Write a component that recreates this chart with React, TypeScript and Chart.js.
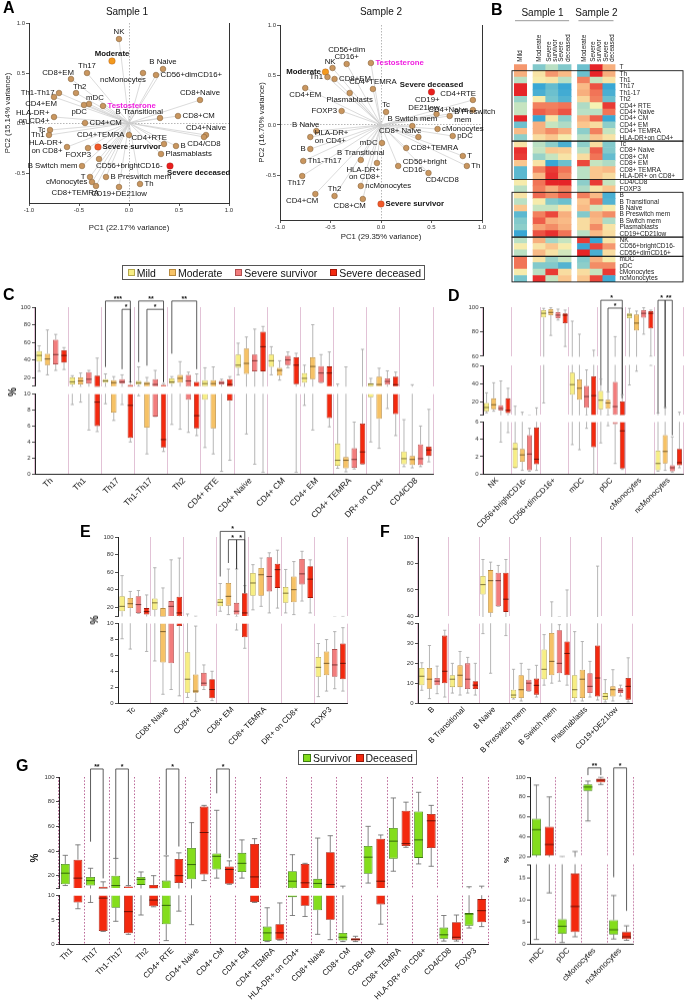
import React, { useEffect, useRef } from 'react';
import { Chart, registerables } from 'chart.js';

Chart.register(...registerables);
const FONT = '"Liberation Sans", Arial, Helvetica, sans-serif';
Chart.defaults.font.family = FONT;
Chart.defaults.color = '#222';

// ---------------- PCA data ----------------
const pca1Labels = ['NK','Moderate','B Naive','ncMonocytes','CD56+dimCD16+','Th17','CD8+EM','Th1-Th17','CD4+EM','Th2','mDC','pDC','Testosterone','CD8+Naive','HLA-DR+\non CD4+','CD4+CM','B Transitional','CD8+CM','Tc','Th1','CD4+TEMRA','CD4+Naive','CD4/CD8','CD4+RTE','B','HLA-DR+\non CD8+','Severe survivor','FOXP3','Plasmablasts','CD56+brightCD16-','Severe deceased','B Switch mem','T','cMonocytes','B Preswitch mem','CD8+TEMRA','CD19+DE21low','Th'];
const pca1X = [-0.10,-0.17,0.34,0.14,0.27,-0.42,-0.58,-0.70,-0.75,-0.53,-0.40,-0.45,-0.26,0.71,-0.75,-0.44,0.31,0.49,-0.79,-0.80,0.00,0.77,0.75,0.35,0.47,-0.62,-0.31,-0.41,0.32,-0.30,0.41,-0.47,-0.39,-0.37,-0.23,-0.33,-0.10,0.11];
const pca1Y = [0.84,0.62,0.54,0.50,0.48,0.50,0.44,0.30,0.26,0.30,0.19,0.18,0.17,0.23,0.06,0.00,0.05,0.07,-0.07,-0.12,-0.12,-0.12,-0.14,-0.21,-0.23,-0.24,-0.24,-0.25,-0.31,-0.36,-0.43,-0.43,-0.54,-0.59,-0.54,-0.63,-0.64,-0.61];
const pca1Place = ['t','t','t','bl','r','t','tl','l','bl','tr','tr','bl','r','t','l','r','tl','r','l','l','l','t','b','tl','r','l','r','bl','r','br','br','l','l','l','r','bl','b','r'];

const pca2Labels = ['CD56+dim\nCD16+','Testosterone','NK','Moderate','Th1','CD8+EM','CD4+EM','CD4+TEMRA','Plasmablasts','Severe deceased','FOXP3','Tc','CD19+\nDE21low','B Naive','B Switch mem','cMonocytes','pDC','HLA-DR+\non CD4+','CD8+ Naive','mDC','B','CD8+TEMRA','Th1-Th17','B Transitional','HLA-DR+\non CD8+','CD56+bright\nCD16-','Th17','CD4/CD8','ncMonocytes','CD4+CM','Th2','CD8+CM','Severe survivor','CD4+RTE','CD4+Naive','B Preswitch\nmem','T','Th'];
const pca2X = [-0.34,-0.10,-0.48,-0.55,-0.53,-0.46,-0.75,-0.08,-0.31,0.50,-0.39,0.05,0.55,-0.64,0.31,0.56,0.71,-0.70,0.37,0.01,-0.70,0.25,-0.77,-0.20,-0.04,0.17,-0.78,0.47,-0.20,-0.65,-0.46,-0.18,0.00,0.91,0.91,0.68,0.81,0.85];
const pca2Y = [0.61,0.62,0.57,0.53,0.48,0.46,0.37,0.36,0.32,0.33,0.14,0.13,0.11,-0.06,-0.01,-0.04,-0.11,-0.12,-0.12,-0.18,-0.24,-0.23,-0.36,-0.35,-0.38,-0.41,-0.51,-0.48,-0.61,-0.69,-0.71,-0.74,-0.79,0.25,0.15,0.09,-0.31,-0.41];
const pca2Place = ['t','r','tl','l','l','r','b','t','b','t','l','t','tl','tl','t','r','r','r','tl','l','l','r','r','t','bl','r','bl','br','r','bl','t','bl','r','tl','l','r','r','r'];

const COND_COLORS: any = { 'Moderate': '#f39a1e', 'Severe survivor': '#f0592a', 'Severe deceased': '#e81e1e' };

// ---------------- Heatmap data ----------------
const heatRows = ['T','Th','Th1','Th17','Th1-17','Th2','CD4+ RTE','CD4+ Naive','CD4+ CM','CD4+ EM','CD4+ TEMRA','HLA-DR+on CD4+','Tc','CD8+ Naive','CD8+ CM','CD8+ EM','CD8+ TEMRA','HLA-DR+ on CD8+','CD4/CD8','FOXP3','B','B Transitional','B Naive','B Preswitch mem','B Switch mem','Plasmablasts','CD19+CD21low','NK','CD56+brightCD16-','CD56+dimCD16+','mDC','pDC','cMonocytes','ncMonocytes'];
const heatCols = ['Mild','Moderate','Severe\nsurvivor','Severe\ndeceased','Moderate','Severe\nsurvivor','Severe\ndeceased'];
const heatValues = [
  [1.0,-1.0,-0.5,-1.0,-1.2,2.0,0.8],
  [0.8,0.2,1.0,0.7,-1.2,2.0,0.8],
  [-0.5,0.1,0.2,-0.5,1.2,-0.4,0.2],
  [2.0,-1.8,-1.3,-1.8,0.7,1.6,-1.8],
  [2.0,-1.6,-1.2,-1.7,0.8,1.3,-1.6],
  [-0.8,0.1,-1.1,-1.5,0.4,1.2,-1.2],
  [-0.4,1.2,1.2,1.3,-0.6,0.0,1.8],
  [-0.4,1.5,1.3,1.6,-0.5,-0.5,1.3],
  [2.0,-1.8,0.2,-0.9,0.8,1.5,-1.8],
  [-1.2,0.8,-0.4,-0.6,0.6,0.3,-0.9],
  [0.7,0.8,1.1,0.8,-0.9,1.2,-0.4],
  [-0.9,0.3,0.6,0.1,-0.5,0.6,0.2],
  [0.2,-0.5,-0.9,-1.6,-0.9,0.3,-1.0],
  [1.9,-0.4,0.6,0.5,-0.5,1.5,-1.0],
  [1.8,-0.8,-0.4,0.2,0.3,1.3,-1.3],
  [0.6,0.2,-1.8,-1.2,1.7,-0.4,-0.6],
  [-1.4,1.2,1.8,1.3,-0.5,0.6,0.7],
  [-1.4,0.7,1.9,1.1,-0.5,0.6,0.3],
  [0.1,1.3,2.0,2.0,-0.9,1.8,-0.4],
  [-0.5,1.2,0.8,1.2,-0.6,0.2,0.6],
  [0.2,1.4,1.1,1.5,1.2,0.7,-1.6],
  [-0.5,0.1,-1.0,-1.2,0.6,1.3,-1.5],
  [0.6,-0.4,-0.4,0.2,0.7,-0.3,0.1],
  [-1.4,1.2,1.7,0.8,-1.0,0.8,1.1],
  [-1.0,1.5,0.8,0.7,0.3,0.7,-0.6],
  [-0.9,0.9,1.1,0.8,0.3,1.1,0.2],
  [-1.8,1.6,1.9,1.3,-0.5,0.7,0.3],
  [-0.5,0.8,-0.7,-0.4,1.8,-1.8,0.2],
  [0.1,0.2,0.6,0.1,-1.8,1.7,1.0],
  [-0.5,0.7,0.2,-0.3,2.0,-1.6,0.3],
  [1.3,0.2,-0.8,-0.4,-1.0,0.8,0.1],
  [1.3,-1.0,-1.0,-1.5,-0.9,1.1,1.1],
  [0.1,-0.5,1.8,0.3,0.3,-0.4,1.8],
  [-1.1,1.9,-0.4,0.6,0.6,1.7,-1.7],
];
const heatColPos = [0, 1.5, 2.5, 3.5, 5, 6, 7];
const heatBoxes = [[1, 12], [12, 18], [20, 27], [27, 30], [30, 34]];

// ---------------- Box plot data: [min, q1, median, q3, max] ----------------
const catsC = ['Th','Th1','Th17','Th1-Th17','Th2','CD4+ RTE','CD4+ Naive','CD4+ CM','CD4+ EM','CD4+ TEMRA','DR+ on CD4+','CD4/CD8'];
const cMild = [[27,38,45,50,56],[8.7,12,15,20,22],[8.8,14,16,18,24],[9.8,12,14,16,32],[6.2,13,15,19,21],[3.3,9.3,13,17,31],[23,31,34,46,59],[23,32,39,46,55],[8.6,14,19,25,34],[0.7,1,1.7,3.8,12.5],[4,9.6,12.5,13.6,19],[0.9,1.2,1.9,2.8,6.8]];
const cModerate = [[23,34,41,47,74],[9,12,16,20,25],[6.7,7.7,14,17,21],[2.5,5.8,13,15,20],[5.6,14,19,23,38],[2.5,5.7,13,17,32],[5,24,36,53,66],[17,22,28,31,39],[5.5,18,32.5,43,80],[0.25,0.7,1.7,2.1,32],[3.2,6.9,12,21,30.5],[0.75,1.1,1.8,2.25,11.7]];
const cSevSurv = [[28,35,46,63,69],[5.5,13,18,26,28],[8.7,13,15,18,23],[7.2,7.2,12,18,28],[5.2,9.3,16,23,26],[0.3,12,14,16,18],[1.2,27,39,46,75],[31,34,40,44.5,49],[14,14,25,33,46],[0.6,0.75,1.8,3.2,6.5],[8.2,11.7,15.5,19,27.5],[0.9,1.1,1.9,3.7,6]];
const cSevDec = [[29,37,45,51,54],[5.3,6,9,22,42],[4,4.5,8.6,11.5,15],[2.8,3.3,4.3,11.5,13],[4.8,5.7,7.3,15,24],[1.7,9.2,12,18,21],[0.2,27,55,72,78],[0.2,12.4,34,43,47.5],[5.9,7,25,32.5,49],[1.2,1.2,2.75,6.3,52],[4.8,7.5,11.7,21,26],[1.5,2.25,3,3.4,8.1]];
const bracketsC = [
  { cat: 2, a: 0, b: 3, y: 107, ya: 32.5, yb: 15, text: '***' },
  { cat: 2, a: 2, b: 3, y: 97.5, ya: 30, yb: 15, text: '*' },
  { cat: 3, a: 0, b: 3, y: 107, ya: 38, yb: 15.5, text: '**' },
  { cat: 3, a: 1, b: 3, y: 97.5, ya: 34, yb: 15.5, text: '*' },
  { cat: 4, a: 0, b: 3, y: 107, ya: 47.5, yb: 30, text: '**' },
];

const catsD = ['NK','CD56+brightCD16-','CD56+dimCD16+','mDC','pDC','cMonocytes','ncMonocytes'];
const dMild = [[8.2,10,14,19,30],[0.7,0.7,2.9,3.6,15.4],[19,91.6,95,97.6,99],[3.4,28,39,52,88.6],[3.6,12,22,32,45],[38.6,91,93.5,95,99],[0.3,0.4,1.2,2.7,8.2]];
const dModerate = [[10,12,17,24,41],[0.4,1.4,2.2,2.9,8.9],[77,93.5,95.7,98.4,99.5],[2.8,22.5,35,44.6,78],[5.6,12.5,19,22.5,31],[53.6,81,87,94,96.8],[0.4,1.2,2.6,4.5,14]];
const dSevSurv = [[3.7,10.7,13,16.4,43],[0.3,0.4,2.3,4.5,5.3],[89.5,91,93.5,96,98.4],[5.3,13.6,26,37.5,55],[1.2,5.8,15,42,76],[78,91.4,95,97.6,99.5],[0.2,0.3,0.7,1,4.3]];
const dSevDec = [[4.8,8,11,24,35],[0.4,1.1,1.7,5.4,13.6],[68,87,93.5,95,97.6],[0,3.1,27,48,65],[0.5,0.6,5,20.7,28],[60,82.7,95,96.8,97.6],[0.7,1,1.3,2.9,8.9]];
const bracketsD = [
  { cat: 4, a: 0, b: 3, y: 105.6, ya: 38.6, yb: 24.6, text: '*' },
  { cat: 4, a: 1, b: 3, y: 99.2, ya: 31.4, yb: 24.6, text: '*' },
  { cat: 6, a: 0, b: 1, y: 105.6, ya: 8.2, yb: 14, text: '*' },
  { cat: 6, a: 1, b: 2, y: 105.6, ya: 14, yb: 4.5, text: '**' },
];

const catsE = ['Tc','CD8+ Naive','CD8+ CM','CD8+ EM','CD8+ TEMRA','DR+ on CD8+','FOXP3'];
const eMild = [[8.1,15.4,21,32.5,56],[5.3,17,25,30,65],[0.7,1.3,3,6.4,12.3],[15.4,21,25.6,29.4,47],[17,33,47.6,59,68.5],[13.5,25,36,43,63],[0.8,3.3,4.5,5.8,7.5]];
const eModerate = [[6.8,19,24,30.5,38],[1.1,5.1,9,19,42],[0.2,1.3,1.5,3.6,9.7],[11.6,21.8,32.4,47.6,63.5],[21,33,57,64.7,76],[11.6,25.6,40,55,72],[1.5,3.5,5,6.5,8]];
const eSevSurv = [[13,13.5,23,32.5,39],[1.7,5,21,27,74],[1.7,2.1,2.5,3.8,4.8],[9.2,11.6,15.4,25,63.5],[13.5,38,55,77,82],[27,46,58,75,83.7],[1.8,3.3,4.8,6.8,9]];
const eSevDec = [[6.5,11.6,15,19,34],[0.9,9.7,13.5,32,76],[0.3,0.6,1.7,3,4],[6.9,8.3,13.5,36,44.6],[19,42,62.8,69.6,85],[13.5,30.6,52,66.6,74],[1.5,3,5,7.5,9.5]];
const bracketsE = [
  { cat: 3, a: 0, b: 3, y: 106.4, ya: 55, yb: 36, text: '*' },
  { cat: 3, a: 1, b: 2, y: 96.9, ya: 70.4, yb: 63.5, text: '*' },
  { cat: 3, a: 2, b: 3, y: 96.9, ya: 63.5, yb: 36, text: '*' },
];

const catsF = ['B','B Transitional','B Naive','B Preswitch mem','B Switch mem','Plasmablasts','CD19+DE21low'];
const fMild = [[6.4,8.9,13.5,17.7,20.3],[5,8,12,14,20],[35,56.5,64,70.6,83],[2,2.5,4,6.7,17],[9,12,17,27,34.5],[1,2.5,6.7,14,36],[0.5,1.7,3.3,5,11.8]];
const fModerate = [[2.2,7.2,12,17.7,29],[4,8,14,19,26],[15,42.8,67,75,81],[1,2.5,6.7,14,20],[10,14,21,35.3,51],[1,2.5,12,16.8,31],[1,3.3,6.7,8.4,16.8]];
const fSevSurv = [[4.7,8.9,11,12.6,18.6],[5,7,12,20,23],[47.6,47.6,67,73,78.5],[5.9,5.9,10,11.7,17],[11,15,20,36.7,39.5],[3,5,8.4,15,21],[3.5,5,6.2,7.5,9]];
const fSevDec = [[3,10,16,34,36.7],[4,7,9,11,20],[34,43.4,53,73,83],[3,4.2,8.9,12.3,19],[9,14,25,31,60],[1.5,3.3,12.6,29,78],[0.5,1.7,8.4,12.6,22.8]];

const catsG = ['Th1','Th17','Th1-Th17','Th2','CD4+ RTE','CD4+ Naive','CD4+ CM','CD4+ EM','CD4+ TEMRA','HLA-DR+ on CD4+','CD8+ Naive','CD8+ CM','CD8+ EM','CD8+ TEMRA','HLA-DR+ on CD8+','CD4/CD8','FOXP3'];
const gSurvivor = [[12,13,22,29.5,36.5],[8.6,12,16,19,26],[4.7,7.5,12,20,34],[6,12.5,17,19,23],[0.7,4.1,8,16,36],[4,17,29,42.5,63],[18,25,35.7,38,73],[18,23,30,38.5,49],[0.5,0.6,2.3,3.6,7.5],[5.9,9.7,15.5,23.6,37],[2,7,13.7,17.4,50.5],[0.5,0.7,1.4,2.3,11.5],[14,21.5,35,44,60],[23.6,33.8,48,58.6,83],[29.5,34.4,49,72,87.6],[0.6,1.1,1.9,3.4,5.9],[3.3,3.8,6.2,6.4,11]];
const gDeceased = [[7.3,8.6,18,33,45],[2.6,2.7,9.5,11,15],[2,2.2,6.7,11.3,12],[7.7,7.8,9.1,12.5,20],[6.8,14,20,33.5,38.5],[16,21,55,76,77],[13,13.5,25,27.5,32],[8.6,8.7,19,45.7,50],[0.8,0.9,2.3,4.1,8.5],[5.7,7.9,14.2,29.5,30],[0.9,5,12.8,39,52.4],[0.5,0.7,0.9,1.2,1.6],[4.1,8.2,15.5,50,53],[43,44,46,72.6,79.6],[27.6,42.4,64.5,70,77],[0.6,0.9,1.4,4.5,6],[3.6,4.5,6.9,9.3,11.5]];
const bracketsG = [
  { cat: 1, a: 0, b: 1, y: 106.5, ya: 47.7, yb: 18, text: '**' },
  { cat: 2, a: 0, b: 1, y: 106.5, ya: 34.3, yb: 12.7, text: '*' },
  { cat: 4, a: 0, b: 1, y: 106.5, ya: 37, yb: 43.8, text: '*' },
  { cat: 6, a: 0, b: 1, y: 106.5, ya: 86.8, yb: 34.3, text: '*' },
];
const catsG2 = ['mDC','pDC','cMonocytes','ncMonocytes'];
const g2Survivor = [[1,21,47,58,92],[0.3,2.3,4,5.6,19.8],[55.8,86,90,92.6,96],[1.1,2.1,3.2,5.4,11]];
const g2Deceased = [[11.6,21,32,50,80],[1.6,2.7,8.5,16,25],[92.6,94.6,97,98.5,100],[0.8,1.1,1.6,2.7,4.1]];
const bracketsG2 = [
  { cat: 2, a: 0, b: 1, y: 109.3, ya: 102, yb: 102, text: '**' },
  { cat: 3, a: 0, b: 1, y: 109.3, ya: 15.2, yb: 7.6, text: '*' },
];

// ---------------- styles ----------------
const MILD = { label: 'Mild', fill: '#f7ee84', edge: '#b5a84e', med: '#6d6330' };
const MOD = { label: 'Moderate', fill: '#f6c266', edge: '#b88a3e', med: '#6d5224' };
const SSURV = { label: 'Severe survivor', fill: '#f27d7d', edge: '#b04e4e', med: '#6e2d2d' };
const SDEC = { label: 'Severe deceased', fill: '#f3290f', edge: '#a3180a', med: '#5c0d05' };
const GSURV = { label: 'Survivor', fill: '#84dd1c', edge: '#3d7d10', med: '#2a5a08' };
const GDEC = { label: 'Deceased', fill: '#f3290f', edge: '#991608', med: '#5c0d05' };
const SEP = '#dbb2cc';
const AXIS_W = 22;

function seg(min: number, max: number, top: number, bottom: number, ticks: number[], labels: number[]) {
  return { min, max, top, bottom, ticks, labels };
}

const panels: any[] = [
  { key: 'C', cats: catsC, series: [{ ...MILD, stats: cMild }, { ...MOD, stats: cModerate }, { ...SSURV, stats: cSevSurv }, { ...SDEC, stats: cSevDec }],
    segs: [seg(10, 100, 307, 386.5, [10, 20, 40, 60, 80, 100], [20, 40, 60, 80, 100]), seg(0, 10, 393.7, 473.7, [0, 2, 4, 6, 8, 10], [0, 2, 4, 6, 8, 10])],
    xL: 35, xR: 433, labelH: 52, barPct: 0.66, xFont: 8.3, sepColor: SEP, sepDash: [], whisker: '#a3a3a3', brackets: bracketsC },
  { key: 'D', cats: catsD, series: [{ ...MILD, stats: dMild }, { ...MOD, stats: dModerate }, { ...SSURV, stats: dSevSurv }, { ...SDEC, stats: dSevDec }],
    segs: [seg(60, 100, 307, 356.7, [60, 80, 100], [60, 80, 100]), seg(6, 60, 365, 415, [6, 20, 40, 60], [20, 40, 60]), seg(0, 6, 421.7, 473.7, [0, 2, 4, 6], [0, 2, 4, 6])],
    xL: 483, xR: 683, labelH: 60, barPct: 0.7, xFont: 7.9, sepColor: SEP, sepDash: [], whisker: '#a3a3a3', brackets: bracketsD },
  { key: 'E', cats: catsE, series: [{ ...MILD, stats: eMild }, { ...MOD, stats: eModerate }, { ...SSURV, stats: eSevSurv }, { ...SDEC, stats: eSevDec }],
    segs: [seg(10, 100, 537.3, 616.3, [10, 20, 40, 60, 80, 100], [20, 40, 60, 80, 100]), seg(0, 10, 624, 703.3, [0, 2, 4, 6, 8, 10], [0, 2, 4, 6, 8, 10])],
    xL: 117.5, xR: 347, labelH: 50, barPct: 0.68, xFont: 7.9, sepColor: SEP, sepDash: [], whisker: '#a3a3a3', brackets: bracketsE },
  { key: 'F', cats: catsF, series: [{ ...MILD, stats: fMild }, { ...MOD, stats: fModerate }, { ...SSURV, stats: fSevSurv }, { ...SDEC, stats: fSevDec }],
    segs: [seg(40, 100, 537.3, 616.7, [40, 60, 80, 100], [40, 60, 80, 100]), seg(0, 40, 624, 703.3, [0, 10, 20, 30, 40], [0, 10, 20, 30, 40])],
    xL: 417.6, xR: 632.3, labelH: 50, barPct: 0.7, xFont: 7.9, sepColor: SEP, sepDash: [], whisker: '#a3a3a3', brackets: [] },
  { key: 'G', cats: catsG, series: [{ ...GSURV, stats: gSurvivor }, { ...GDEC, stats: gDeceased }],
    segs: [seg(10, 100, 777, 888.3, [10, 20, 40, 60, 80, 100], [20, 40, 60, 80, 100]), seg(0, 10, 895.7, 944.3, [0, 5, 10], [0, 5, 10])],
    xL: 58.5, xR: 488.3, labelH: 56, barPct: 0.7, xFont: 8.1, sepColor: '#a8407c', sepDash: [1.5, 1.8], whisker: '#666', brackets: bracketsG },
  { key: 'G2', cats: catsG2, series: [{ ...GSURV, stats: g2Survivor }, { ...GDEC, stats: g2Deceased }],
    segs: [seg(20, 100, 777, 856.7, [20, 40, 60, 80, 100], [20, 40, 60, 80, 100]), seg(0, 18, 864.3, 943.7, [0, 5, 10, 15, 18], [0, 5, 10, 15])],
    xL: 529.5, xR: 633.3, labelH: 56, barPct: 0.7, xFont: 8.1, sepColor: '#a8407c', sepDash: [1.5, 1.8], whisker: '#666', brackets: bracketsG2 },
];

// ---------------- plugins ----------------
function drawBoxParts(chart: any, p: any, mode: string) {
  const { ctx, chartArea: a } = chart;
  const ys = chart.scales.y;
  ctx.save();
  ctx.beginPath();
  ctx.rect(a.left, a.top - 0.5, a.right - a.left, a.bottom - a.top + 1);
  ctx.clip();
  p.series.forEach((s: any, di: number) => {
    chart.getDatasetMeta(di).data.forEach((bar: any, i: number) => {
      const st = s.stats[i];
      if (!st) return;
      const x = bar.x, w = bar.width;
      const Y = (v: number) => ys.getPixelForValue(v);
      ctx.beginPath();
      if (mode === 'w') {
        ctx.strokeStyle = p.whisker;
        ctx.lineWidth = 0.8;
        ctx.moveTo(x, Y(st[4])); ctx.lineTo(x, Y(st[3]));
        ctx.moveTo(x, Y(st[1])); ctx.lineTo(x, Y(st[0]));
        const c = w * 0.3;
        ctx.moveTo(x - c, Y(st[4])); ctx.lineTo(x + c, Y(st[4]));
        ctx.moveTo(x - c, Y(st[0])); ctx.lineTo(x + c, Y(st[0]));
      } else {
        ctx.strokeStyle = s.med;
        ctx.lineWidth = 0.9;
        ctx.moveTo(x - w / 2, Y(st[2])); ctx.lineTo(x + w / 2, Y(st[2]));
      }
      ctx.stroke();
    });
  });
  ctx.restore();
}

function whiskerPlugin(p: any) {
  return {
    id: 'whisk',
    beforeDatasetsDraw(chart: any) { drawBoxParts(chart, p, 'w'); },
    afterDatasetsDraw(chart: any) { drawBoxParts(chart, p, 'm'); },
  };
}

function bracketPlugin(p: any, panelTop: number) {
  return {
    id: 'brk',
    afterDraw(chart: any) {
      const { ctx } = chart;
      const ys = chart.scales.y;
      const toY = (v: number) => {
        for (const sg of p.segs) {
          if (v >= sg.min && v <= sg.max) return sg.bottom - ((v - sg.min) / (sg.max - sg.min)) * (sg.bottom - sg.top) - panelTop;
        }
        return ys.getPixelForValue(v);
      };
      ctx.save();
      ctx.strokeStyle = '#333';
      ctx.lineWidth = 0.8;
      ctx.fillStyle = '#111';
      ctx.font = `bold 7px ${FONT}`;
      ctx.textAlign = 'center';
      ctx.textBaseline = 'bottom';
      p.brackets.forEach((b: any) => {
        const xa = chart.getDatasetMeta(b.a).data[b.cat].x;
        const xb = chart.getDatasetMeta(b.b).data[b.cat].x;
        const yt = ys.getPixelForValue(b.y);
        ctx.beginPath();
        ctx.moveTo(xa, toY(b.ya)); ctx.lineTo(xa, yt); ctx.lineTo(xb, yt); ctx.lineTo(xb, toY(b.yb));
        ctx.stroke();
        ctx.fillText(b.text, (xa + xb) / 2, yt + 1.5);
      });
      ctx.restore();
    },
  };
}

function segConfig(p: any, si: number, panelTop: number, panelBottom: number, canvasLeft: number, canvasW: number) {
  const sg = p.segs[si];
  const last = si === p.segs.length - 1;
  const plugins: any[] = [whiskerPlugin(p)];
  if (si === 0 && p.brackets.length) plugins.push(bracketPlugin(p, panelTop));
  return {
    type: 'bar',
    data: {
      labels: p.cats,
      datasets: p.series.map((s: any) => ({
        label: s.label,
        data: s.stats.map((st: number[]) => [st[1], st[3]]),
        backgroundColor: s.fill,
        borderColor: s.edge,
        borderWidth: 0.8,
        borderSkipped: false,
        categoryPercentage: 1,
        barPercentage: p.barPct,
        clip: 0,
      })),
    },
    options: {
      animation: false,
      responsive: false,
      maintainAspectRatio: false,
      layout: { autoPadding: false, padding: { left: 0, right: canvasW - (p.xR - canvasLeft), top: sg.top - panelTop, bottom: last ? 0 : panelBottom - sg.bottom } },
      plugins: { legend: { display: false }, tooltip: { enabled: false }, title: { display: false } },
      scales: {
        x: {
          type: 'category',
          offset: true,
          grid: { display: true, offset: true, color: p.sepColor, lineWidth: 0.8, drawTicks: false },
          border: { display: last, color: '#222', width: 1, dash: p.sepDash },
          ticks: { display: last, autoSkip: false, maxRotation: 45, minRotation: 45, font: { size: p.xFont }, color: '#111', padding: 2 },
          afterFit: (s: any) => { s.height = last ? p.labelH : 0; },
        },
        y: {
          type: 'linear',
          min: sg.min,
          max: sg.max,
          afterBuildTicks: (s: any) => { s.ticks = sg.ticks.map((v: number) => ({ value: v })); },
          ticks: { autoSkip: false, callback: (v: any) => (sg.labels.indexOf(v) >= 0 ? String(v) : ''), font: { size: 6 }, color: '#333', padding: 1.5 },
          grid: { drawOnChartArea: false, drawTicks: true, tickLength: 3, color: '#222', lineWidth: 0.8 },
          border: { display: true, color: '#222', width: 1 },
          afterFit: (s: any) => { s.width = AXIS_W; },
        },
      },
    },
    plugins,
  };
}

function pcaPlugin(labels: string[], place: string[]) {
  return {
    id: 'pcaLab',
    beforeDatasetsDraw(chart: any) {
      const { ctx } = chart;
      const ox = chart.scales.x.getPixelForValue(0), oy = chart.scales.y.getPixelForValue(0);
      ctx.save();
      ctx.strokeStyle = '#cbcbcb';
      ctx.lineWidth = 0.7;
      chart.getDatasetMeta(0).data.forEach((pt: any, i: number) => {
        if (COND_COLORS[labels[i]]) return;
        ctx.beginPath(); ctx.moveTo(ox, oy); ctx.lineTo(pt.x, pt.y); ctx.stroke();
      });
      ctx.restore();
    },
    afterDatasetsDraw(chart: any) {
      const { ctx } = chart;
      ctx.save();
      chart.getDatasetMeta(0).data.forEach((pt: any, i: number) => {
        const lab = labels[i];
        const lines = lab.split('\n');
        const n = lines.length;
        const lh = 7.4;
        const cond = !!COND_COLORS[lab];
        const testo = lab === 'Testosterone';
        ctx.font = `${cond || testo ? 'bold ' : ''}7.8px ${FONT}`;
        ctx.fillStyle = testo ? '#f01ee0' : '#111';
        ctx.textBaseline = 'middle';
        let x = pt.x, y0 = pt.y, align = 'left';
        switch (place[i]) {
          case 'r': x += 4.5; y0 -= ((n - 1) * lh) / 2; align = 'left'; break;
          case 'l': x -= 4.5; y0 -= ((n - 1) * lh) / 2; align = 'right'; break;
          case 't': y0 -= 7 + (n - 1) * lh; align = 'center'; break;
          case 'b': y0 += 7; align = 'center'; break;
          case 'tl': x += 3; y0 -= 6.5 + (n - 1) * lh; align = 'right'; break;
          case 'tr': x -= 3; y0 -= 6.5 + (n - 1) * lh; align = 'left'; break;
          case 'bl': x += 3; y0 += 6.5; align = 'right'; break;
          case 'br': x -= 3; y0 += 6.5; align = 'left'; break;
        }
        ctx.textAlign = align;
        lines.forEach((ln: string, k: number) => ctx.fillText(ln, x, y0 + k * lh));
      });
      ctx.restore();
    },
  };
}

function pcaConfig(o: any) {
  const tickFont = { size: 6 };
  return {
    type: 'scatter',
    data: {
      datasets: [{
        data: o.xs.map((x: number, i: number) => ({ x, y: o.ys[i] })),
        pointRadius: o.labels.map((l: string) => (COND_COLORS[l] ? 3.3 : 2.8)),
        pointBackgroundColor: o.labels.map((l: string) => COND_COLORS[l] || '#c9965f'),
        pointBorderColor: o.labels.map((l: string) => (COND_COLORS[l] ? 'rgba(120,30,0,0.4)' : '#8a663e')),
        pointBorderWidth: 0.6,
      }],
    },
    options: {
      animation: false,
      responsive: false,
      layout: { autoPadding: false, padding: { left: 0, right: o.padRight, top: o.padTop, bottom: 0 } },
      plugins: { legend: { display: false }, tooltip: { enabled: false } },
      scales: {
        x: {
          type: 'linear', min: -1, max: 1, offset: false,
          afterBuildTicks: (s: any) => { s.ticks = [-1, -0.5, 0, 0.5, 1].map((v) => ({ value: v })); },
          ticks: { callback: (v: any) => Number(v).toFixed(1), font: tickFont, color: '#333', padding: 1 },
          grid: { color: (c: any) => (c.tick && c.tick.value === 0 ? '#a5a5a5' : 'rgba(0,0,0,0)'), lineWidth: 0.8, tickColor: '#333', tickLength: 3, tickWidth: 0.8 },
          border: { display: true, color: '#333', width: 1, dash: [1.5, 1.5] },
          title: { display: true, text: o.xTitle, font: { size: 7.8 }, color: '#222', padding: 0 },
          afterFit: (s: any) => { s.height = o.xH; },
        },
        y: {
          type: 'linear', min: o.yMin, max: 1,
          afterBuildTicks: (s: any) => { s.ticks = [-0.5, 0, 0.5, 1].map((v) => ({ value: v })); },
          ticks: { callback: (v: any) => Number(v).toFixed(1), font: tickFont, color: '#333', padding: 1 },
          grid: { color: (c: any) => (c.tick && c.tick.value === 0 ? '#a5a5a5' : 'rgba(0,0,0,0)'), lineWidth: 0.8, tickColor: '#333', tickLength: 3, tickWidth: 0.8 },
          border: { display: true, color: '#333', width: 1, dash: [1.5, 1.5] },
          title: { display: true, text: o.yTitle, font: { size: 7.8 }, color: '#222', padding: { top: o.yTitlePad, bottom: 0 } },
          afterFit: (s: any) => { s.width = o.axisW; },
        },
        y2: {
          type: 'linear', position: 'right', min: 0, max: 1,
          grid: { display: false, drawTicks: false }, ticks: { display: false },
          border: { display: true, color: '#333', width: 1 },
          afterFit: (s: any) => { s.width = 0; },
        },
      },
    },
    plugins: [pcaPlugin(o.labels, o.place)],
  };
}

const HEAT_STOPS: any[] = [[-2, [40, 158, 214]], [-1.2, [108, 192, 206]], [-0.5, [186, 224, 196]], [0, [245, 242, 178]], [0.6, [250, 198, 142]], [1.2, [242, 128, 94]], [2, [230, 36, 40]]];
function heatColor(v: number) {
  const t = Math.max(-2, Math.min(2, v));
  for (let i = 1; i < HEAT_STOPS.length; i++) {
    const [v1, c1] = HEAT_STOPS[i];
    const [v0, c0] = HEAT_STOPS[i - 1];
    if (t <= v1) {
      const f = (t - v0) / (v1 - v0);
      const c = c0.map((c0i: number, k: number) => Math.round(c0i + (c1[k] - c0i) * f));
      return `rgb(${c[0]},${c[1]},${c[2]})`;
    }
  }
  return 'rgb(230,36,40)';
}

const heatPlugin = {
  id: 'heatDeco',
  afterDraw(chart: any) {
    const { ctx, chartArea: a } = chart;
    const xs = chart.scales.x, ys = chart.scales.y;
    const half = (xs.getPixelForValue(1) - xs.getPixelForValue(0)) / 2;
    ctx.save();
    ctx.fillStyle = '#111';
    ctx.font = `6.4px ${FONT}`;
    ctx.textBaseline = 'middle';
    ctx.textAlign = 'left';
    heatCols.forEach((lab, c) => {
      const lines = lab.split('\n');
      const x = xs.getPixelForValue(heatColPos[c]);
      lines.forEach((ln, k) => {
        ctx.save();
        ctx.translate(x + (k - (lines.length - 1) / 2) * 6.3, a.top - 2.5);
        ctx.rotate(-Math.PI / 2);
        ctx.fillText(ln, 0, 0);
        ctx.restore();
      });
    });
    const groups = [['Sample 1', 0, 3], ['Sample 2', 4, 6]];
    ctx.font = `10px ${FONT}`;
    ctx.textAlign = 'center';
    groups.forEach(([t, c0, c1]: any) => {
      const x0 = xs.getPixelForValue(heatColPos[c0]) - half;
      const x1 = xs.getPixelForValue(heatColPos[c1]) + half;
      ctx.fillStyle = '#111';
      ctx.fillText(t, (x0 + x1) / 2, 13.3);
      ctx.strokeStyle = '#999';
      ctx.lineWidth = 1;
      ctx.beginPath(); ctx.moveTo(x0 + 1, 20.7); ctx.lineTo(x1 - 2, 20.7); ctx.stroke();
    });
    ctx.strokeStyle = '#1a1a1a';
    ctx.lineWidth = 0.9;
    heatBoxes.forEach(([r0, r1]) => {
      const y0 = ys.getPixelForValue(r0), y1 = ys.getPixelForValue(r1);
      ctx.strokeRect(a.left - 2, y0, chart.width - 2 - (a.left - 2), y1 - y0);
    });
    ctx.restore();
  },
};

function heatConfig() {
  const cells: any[] = [];
  heatValues.forEach((row, r) => row.forEach((v, c) => cells.push({ x: heatColPos[c], y: [r, r + 1], v })));
  return {
    type: 'bar',
    data: { datasets: [{ data: cells, backgroundColor: (c: any) => heatColor(c.raw ? c.raw.v : 0), borderWidth: 0, barPercentage: 1, categoryPercentage: 1 }] },
    options: {
      animation: false, responsive: false,
      layout: { autoPadding: false, padding: { left: 54, right: 0, top: 64.3, bottom: 8.1 } },
      plugins: { legend: { display: false }, tooltip: { enabled: false } },
      scales: {
        x: { type: 'linear', min: -0.5, max: 7.5, offset: false, display: false, grid: { offset: false }, afterBuildTicks: (s: any) => { s.ticks = heatColPos.map((v) => ({ value: v })); } },
        y: {
          type: 'linear', position: 'right', min: 0, max: 34, reverse: true, offset: false,
          afterBuildTicks: (s: any) => { s.ticks = heatRows.map((_, i) => ({ value: i + 0.5 })); },
          ticks: { autoSkip: false, callback: (_v: any, i: number) => heatRows[i], font: { size: 6.5 }, color: '#222', padding: 4 },
          grid: { display: false, drawTicks: false }, border: { display: false },
          afterFit: (s: any) => { s.width = 69.5; },
        },
      },
    },
    plugins: [heatPlugin],
  };
}

// ---------------- components ----------------
function ChartBox({ left, top, width, height, make }: any) {
  const ref = useRef<HTMLCanvasElement | null>(null);
  useEffect(() => {
    const chart = new Chart(ref.current as any, make());
    return () => chart.destroy();
  }, []);
  return <canvas ref={ref} width={width} height={height} style={{ position: 'absolute', left, top, width, height }} />;
}

function Txt({ x, y, children, size = 10, bold = false, rot = 0, color = '#111' }: any) {
  return (
    <div style={{ position: 'absolute', left: x, top: y, transform: `translate(-50%,-50%) rotate(${rot}deg)`, fontSize: size, fontWeight: bold ? 'bold' : 'normal', color, whiteSpace: 'nowrap', lineHeight: 1 }}>
      {children}
    </div>
  );
}

function Letter({ x, y, t }: any) {
  return <div style={{ position: 'absolute', left: x, top: y, fontSize: 16, fontWeight: 'bold', lineHeight: '16px', color: '#000' }}>{t}</div>;
}

function Swatch({ fill, edge, size = 7 }: any) {
  return <span style={{ display: 'inline-block', width: size, height: size, background: fill, border: `0.5px solid ${edge}`, marginRight: 2, boxSizing: 'border-box' }} />;
}

export default function App() {
  const boxCanvases: any[] = [];
  panels.forEach((p) => {
    const canvasLeft = p.xL - AXIS_W;
    const canvasRight = Math.min(p.xR + 6, 685);
    const panelTop = p.segs[0].top - 24;
    const panelBottom = p.segs[p.segs.length - 1].bottom + p.labelH;
    p.segs.forEach((_s: any, si: number) => {
      boxCanvases.push(
        <ChartBox key={p.key + si} left={canvasLeft} top={panelTop} width={canvasRight - canvasLeft} height={panelBottom - panelTop}
          make={() => segConfig(p, si, panelTop, panelBottom, canvasLeft, canvasRight - canvasLeft)} />
      );
    });
  });

  const legend1 = [MILD, MOD, SSURV, SDEC];
  const legend2 = [GSURV, GDEC];

  return (
    <div style={{ position: 'absolute', left: 0, top: 0, width: 685, height: 1001, overflow: 'hidden', background: '#fff', fontFamily: FONT }}>
      <ChartBox left={0} top={0} width={240} height={233}
        make={() => pcaConfig({ labels: pca1Labels, xs: pca1X, ys: pca1Y, place: pca1Place, yMin: -0.8, xTitle: 'PC1 (22.17% variance)', yTitle: 'PC2 (15.14% variance)', padTop: 23, padRight: 11, xH: 30, axisW: 29, yTitlePad: 3.6 })} />
      <ChartBox left={252} top={0} width={253} height={242}
        make={() => pcaConfig({ labels: pca2Labels, xs: pca2X, ys: pca2Y, place: pca2Place, yMin: -0.95, xTitle: 'PC1 (29.35% variance)', yTitle: 'PC2 (16.70% variance)', padTop: 25, padRight: 23, xH: 22, axisW: 28, yTitlePad: 5 })} />
      <ChartBox left={460} top={0} width={225} height={290} make={heatConfig} />
      {boxCanvases}

      <Txt x={127} y={11.5} size={10}>Sample 1</Txt>
      <Txt x={381} y={11.5} size={10}>Sample 2</Txt>

      <Letter x={3} y={0} t="A" />
      <Letter x={491} y={2} t="B" />
      <Letter x={3} y={287} t="C" />
      <Letter x={448} y={288} t="D" />
      <Letter x={80} y={524} t="E" />
      <Letter x={380} y={524} t="F" />
      <Letter x={16} y={758} t="G" />

      <Txt x={13} y={392} size={10} bold rot={-90}>%</Txt>
      <Txt x={95} y={620} size={10} bold rot={-90}>%</Txt>
      <Txt x={35} y={858} size={10} bold rot={-90}>%</Txt>
      <Txt x={506} y={860} size={7} bold rot={-90}>%</Txt>

      <div style={{ position: 'absolute', right: 260, top: 265, height: 15, border: '1px solid #555', display: 'flex', alignItems: 'center', padding: '0 3px 0 5px', fontSize: 10.5, whiteSpace: 'nowrap', boxSizing: 'border-box', color: '#111' }}>
        {legend1.map((it, i) => (
          <span key={it.label} style={{ display: 'flex', alignItems: 'center', marginLeft: i ? 13 : 0 }}>
            <Swatch fill={it.fill} edge={it.edge} />{it.label}
          </span>
        ))}
      </div>
      <div style={{ position: 'absolute', left: 298, top: 750, height: 15, border: '1px solid #555', display: 'flex', alignItems: 'center', padding: '0 3px 0 4px', fontSize: 10.5, whiteSpace: 'nowrap', boxSizing: 'border-box', color: '#111' }}>
        {legend2.map((it, i) => (
          <span key={it.label} style={{ display: 'flex', alignItems: 'center', marginLeft: i ? 4 : 0 }}>
            <Swatch fill={it.fill} edge={it.edge} size={8} />{it.label}
          </span>
        ))}
      </div>
    </div>
  );
}
